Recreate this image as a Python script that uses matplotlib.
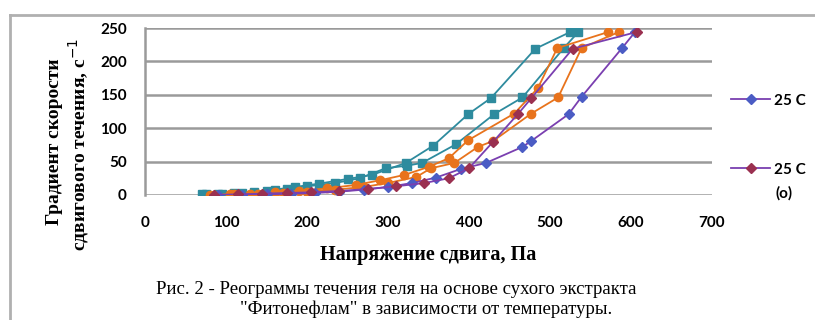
import matplotlib
matplotlib.use("Agg")
import matplotlib.pyplot as plt
from matplotlib.lines import Line2D

# shear stress (Pa) vs shear rate gradient (1/s), one list pair per run
teal_a_x = [70, 90, 110, 135, 160, 185, 215, 250, 280, 322, 356, 399, 427, 482, 525]
teal_a_y = [1, 2, 3, 5, 8, 12, 17, 24, 30, 48, 74, 121, 145, 219, 244]

teal_b_x = [75, 95, 120, 150, 175, 200, 235, 265, 297, 324, 342, 384, 431, 466, 517, 535]
teal_b_y = [1, 2, 3, 6, 9, 13, 18, 25, 40, 44, 48, 76, 121, 146, 220, 244]

orange_a_x = [80, 105, 130, 160, 190, 225, 260, 290, 320, 350, 375, 399, 456, 485, 509, 572]
orange_a_y = [0, 1, 2, 4, 6, 10, 15, 22, 30, 42, 55, 82, 122, 160, 220, 244]

orange_b_x = [85, 110, 140, 170, 200, 235, 270, 300, 335, 353, 382, 411, 430, 477, 510, 539, 585]
orange_b_y = [0, 1, 2, 3, 5, 8, 12, 18, 27, 40, 48, 72, 81, 122, 146, 220, 244]

t25_x = [90, 120, 150, 180, 210, 240, 270, 300, 330, 359, 390, 421, 466, 477, 523, 539, 589, 605]
t25_y = [0, 0, 1, 2, 3, 5, 8, 12, 18, 26, 39, 48, 72, 81, 121, 147, 220, 244]

t25o_x = [85, 115, 145, 175, 205, 240, 275, 310, 345, 375, 400, 430, 461, 477, 528, 607]
t25o_y = [0, 1, 2, 3, 4, 6, 9, 13, 18, 25, 40, 80, 122, 145, 219, 244]

x_ticks = [0, 100, 200, 300, 400, 500, 600, 700]
y_ticks = [0, 50, 100, 150, 200, 250]

TEAL = "#2E8B9E"
ORANGE = "#E8731C"
PURPLE = "#7A3FB0"
BLUE = "#4B5CC4"
MAROON = "#9A3050"
GRID = "#9a9a9a"

tick_font = dict(family="Lato", weight="bold", size=11)
serif_bold = dict(family="Liberation Serif", weight="bold")

fig = plt.figure(figsize=(8.15, 3.2), dpi=100)
ax = fig.add_axes([145 / 815, 1 - 195 / 320, (712 - 145) / 815, (195 - 28) / 320])

ax.plot(teal_a_x, teal_a_y, color=TEAL, lw=1.3, marker="s", ms=6, mfc=TEAL, mec=TEAL)
ax.plot(teal_b_x, teal_b_y, color=TEAL, lw=1.3, marker="s", ms=6, mfc=TEAL, mec=TEAL)
ax.plot(orange_a_x, orange_a_y, color=ORANGE, lw=1.3, marker="o", ms=6, mfc=ORANGE, mec=ORANGE)
ax.plot(orange_b_x, orange_b_y, color=ORANGE, lw=1.3, marker="o", ms=6, mfc=ORANGE, mec=ORANGE)
l25, = ax.plot(t25_x, t25_y, color=PURPLE, lw=1.3, marker="D", ms=5, mfc=BLUE, mec=BLUE)
l25o, = ax.plot(t25o_x, t25o_y, color=PURPLE, lw=1.3, marker="D", ms=5, mfc=MAROON, mec=MAROON)

ax.set_xlim(0, 700)
ax.set_ylim(0, 250)
ax.set_xticks(x_ticks)
ax.set_yticks(y_ticks)
ax.set_xticklabels([str(v) for v in x_ticks], **tick_font)
ax.set_yticklabels([str(v) for v in y_ticks], **tick_font)
ax.tick_params(axis="both", length=0)
ax.tick_params(axis="x", pad=15)
ax.tick_params(axis="y", pad=13)
ax.yaxis.grid(True, color=GRID, lw=1.8)
ax.set_axisbelow(True)
for side in ("top", "right", "bottom"):
    ax.spines[side].set_visible(False)
ax.spines["left"].set_color(GRID)
ax.spines["left"].set_linewidth(1.8)

ax.set_xlabel("Напряжение сдвига, Па", fontsize=14.5, labelpad=11, **serif_bold)
fig.text(55 / 815, 1 - 142 / 320, "Градиент скорости", rotation=90,
         ha="center", va="center", fontsize=14, **serif_bold)
fig.text(79 / 815, 1 - 145 / 320, "сдвигового течения, с$^{-1}$", rotation=90,
         ha="center", va="center", fontsize=14, **serif_bold)

legend_font = dict(family="Lato", weight="bold", size=11)
fig.legend([l25, l25o], ["25 C", "25 C"], loc="upper left",
           bbox_to_anchor=(717 / 815, 1 - 80 / 320), frameon=False,
           prop=legend_font, handlelength=2.6, handletextpad=0.2, labelspacing=3.6)
fig.text(775 / 815, 1 - 193 / 320, "(o)", ha="left", va="center", **legend_font)

fig.text(396 / 815, 1 - 290 / 320,
         "Рис. 2 - Реограммы течения геля на основе сухого экстракта",
         ha="center", va="center", family="Liberation Serif", fontsize=13.5)
fig.text(426 / 815, 1 - 309 / 320,
         "\"Фитонефлам\" в зависимости от температуры.",
         ha="center", va="center", family="Liberation Serif", fontsize=13.5)

# page frame around the figure block
fig.add_artist(Line2D([10 / 815, 1], [1 - 15 / 320] * 2, transform=fig.transFigure,
                      color="#b0b0b0", lw=2))
fig.add_artist(Line2D([10 / 815] * 2, [0, 1 - 15 / 320], transform=fig.transFigure,
                      color="#b0b0b0", lw=2))

fig.savefig("out.png", dpi=100)
